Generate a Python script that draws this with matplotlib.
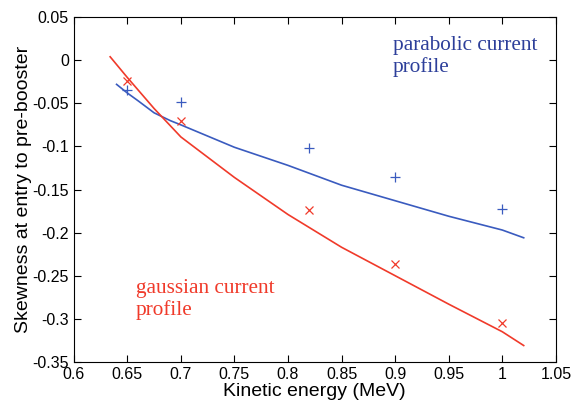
import matplotlib
matplotlib.use("Agg")
import matplotlib.pyplot as plt

# measured points
energy = [0.65, 0.70, 0.82, 0.90, 1.00]
skew_parabolic = [-0.035, -0.049, -0.102, -0.135, -0.173]
skew_gaussian = [-0.024, -0.071, -0.174, -0.236, -0.305]

# fitted curves
fit_par_x = [0.64, 0.65, 0.66, 0.675, 0.69, 0.70, 0.75, 0.80, 0.85, 0.90, 0.95, 1.00, 1.02]
fit_par_y = [-0.028, -0.038, -0.047, -0.061, -0.070, -0.075, -0.101, -0.122, -0.145, -0.163, -0.181, -0.197, -0.206]
fit_gau_x = [0.634, 0.65, 0.675, 0.70, 0.75, 0.80, 0.85, 0.90, 0.95, 1.00, 1.02]
fit_gau_y = [0.004, -0.020, -0.056, -0.089, -0.136, -0.179, -0.217, -0.250, -0.283, -0.315, -0.331]

blue = "#3a5bbf"
red = "#f03a2a"

plt.rcParams["font.family"] = ["Liberation Sans", "DejaVu Sans"]

fig = plt.figure(figsize=(5.76, 4.08), dpi=100)
ax = fig.add_axes([0.128, 0.113, 0.837, 0.845])

ax.plot(fit_par_x, fit_par_y, color=blue, lw=1.2)
ax.plot(fit_gau_x, fit_gau_y, color=red, lw=1.2)
ax.plot(energy, skew_parabolic, "+", color=blue, ms=7, mew=0.9)
ax.plot(energy, skew_gaussian, "x", color=red, ms=6, mew=0.9)

ax.text(0.898, 0.028, "parabolic current\nprofile", color="#2d3f9a",
        family="Liberation Serif", fontsize=15.3, va="top", linespacing=1.15)
ax.text(0.658, -0.254, "gaussian current\nprofile", color=red,
        family="Liberation Serif", fontsize=15.3, va="top", linespacing=1.15)

ax.set_xlim(0.6, 1.05)
ax.set_ylim(-0.35, 0.05)
ax.set_xticks([0.6, 0.65, 0.7, 0.75, 0.8, 0.85, 0.9, 0.95, 1.0, 1.05])
ax.set_xticklabels(["0.6", "0.65", "0.7", "0.75", "0.8", "0.85", "0.9", "0.95", "1", "1.05"])
ax.set_yticks([-0.35, -0.3, -0.25, -0.2, -0.15, -0.1, -0.05, 0, 0.05])
ax.set_yticklabels(["-0.35", "-0.3", "-0.25", "-0.2", "-0.15", "-0.1", "-0.05", "0", "0.05"])
ax.tick_params(direction="in", top=True, right=True, labelsize=11.5, length=5)
ax.set_xlabel("Kinetic energy (MeV)", fontsize=14, labelpad=1)
ax.set_ylabel("Skewness at entry to pre-booster", fontsize=14, labelpad=0)

fig.savefig("out.png", dpi=100)
